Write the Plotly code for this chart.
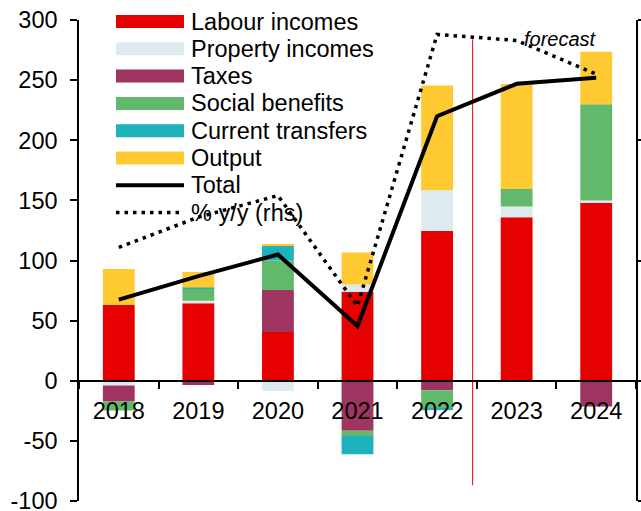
import plotly.graph_objects as go

# Household disposable income decomposition, contributions by component
years = ["2018", "2019", "2020", "2021", "2022", "2023", "2024"]
labour_incomes = [63, 64.5, 40.5, 74, 124.5, 136, 148]
property_incomes = [-4, 2, -8.5, 6, 34, 9, 2]
taxes = [-13.3, -3.5, 35, -41.7, -8, 0, -21.5]
social_benefits = [-7.5, 10, 24.5, -4.2, -15.5, 14.5, 80]
current_transfers = [0, 1, 12.8, -15.3, -1, 0, 0]
output = [30, 13, 1, 26.7, 87, 87.3, 43.6]
total = [67.5, 87, 105, 45.5, 220, 247, 252]
yoy_rhs = [11.1, 13.6, 15.4, 6.2, 28.8, 28.3, 25.5]
left_ticks = [-100, -50, 0, 50, 100, 150, 200, 250, 300]

FONT = "Liberation Sans"
FS = 23.5

series = [
    ("Labour incomes", labour_incomes, "#E60000"),
    ("Property incomes", property_incomes, "#DDEBF1"),
    ("Taxes", taxes, "#9E3460"),
    ("Social benefits", social_benefits, "#63B96B"),
    ("Current transfers", current_transfers, "#1DB2BC"),
    ("Output", output, "#FFC932"),
]

fig = go.Figure()
for name, vals, col in series:
    fig.add_trace(go.Bar(x=years, y=vals, name=name, marker=dict(color=col, line=dict(width=0)),
                         showlegend=False))

fig.add_trace(go.Scatter(x=years, y=total, mode="lines", name="Total",
                         line=dict(color="black", width=4), showlegend=False))
fig.add_trace(go.Scatter(x=years, y=yoy_rhs, mode="lines", name="% y/y (rhs)", yaxis="y2",
                         line=dict(color="black", width=3.5, dash="3.5px,5px"), showlegend=False))

# plot-area pixel frame used to place the hand-drawn legend
L, R, T, B = 79, 636, 20, 501


def px_x(p):
    return (p - L) / (R - L)


def px_y(p):
    return (B - p) / (B - T)


shapes = []
annotations = []
legend_rows = [(name, "box", col) for name, _, col in series] + [
    ("Total", "solid", "black"), ("% y/y (rhs)", "dot", "black")]
row_y0, row_step = 21.5, 27.3
for i, (name, kind, col) in enumerate(legend_rows):
    cy = row_y0 + i * row_step
    if kind == "box":
        shapes.append(dict(type="rect", xref="paper", yref="paper", x0=px_x(116), x1=px_x(184),
                           y0=px_y(cy + 6.5), y1=px_y(cy - 6.5), fillcolor=col, line=dict(width=0)))
    else:
        shapes.append(dict(type="line", xref="paper", yref="paper", x0=px_x(116), x1=px_x(184),
                           y0=px_y(cy), y1=px_y(cy),
                           line=dict(color=col, width=4 if kind == "solid" else 3.5,
                                     dash="solid" if kind == "solid" else "3.5px,5px")))
    annotations.append(dict(text=name, xref="paper", yref="paper", x=px_x(189), y=px_y(cy),
                            xanchor="left", yanchor="middle", showarrow=False,
                            font=dict(family=FONT, size=FS, color="black")))

# forecast divider
shapes.append(dict(type="line", xref="x", yref="y", x0=4.447, x1=4.447, y0=-87, y1=284,
                   line=dict(color="#E8000B", width=1), layer="below"))
annotations.append(dict(text="<i>forecast</i>", xref="x", yref="y", x=5.55, y=284,
                        xanchor="center", yanchor="middle", showarrow=False,
                        font=dict(family=FONT, size=20, color="black")))

fig.update_layout(
    width=641, height=511,
    margin=dict(l=L, r=641 - R, t=T, b=511 - B),
    paper_bgcolor="white", plot_bgcolor="white",
    barmode="relative", bargap=0.6,
    showlegend=False,
    font=dict(family=FONT, size=FS, color="black"),
    shapes=shapes, annotations=annotations,
    xaxis=dict(type="category", anchor="free", position=0.25, range=[-0.5, 6.5],
               showline=True, linecolor="black", linewidth=1.5, automargin=False,
               ticks="outside", tickson="boundaries", ticklen=7, tickwidth=1.5, tickcolor="black",
               showgrid=False, zeroline=False, ticklabelstandoff=9,
               tickfont=dict(family=FONT, size=FS, color="black")),
    yaxis=dict(range=[-100.05, 300.05], tickvals=left_ticks,
               ticktext=[str(v) for v in left_ticks], ticklabeloverflow="allow",
               showline=True, linecolor="black", linewidth=1.5, automargin=False,
               ticks="outside", ticklen=7, tickwidth=1.5, tickcolor="black",
               showgrid=False, zeroline=False, ticklabelstandoff=8,
               tickfont=dict(family=FONT, size=FS, color="black")),
    yaxis2=dict(overlaying="y", side="right", range=[-10, 30], dtick=10, showline=True,
                linecolor="black", linewidth=1.5, ticks="outside", ticklen=7, tickwidth=1.5,
                tickcolor="black", showgrid=False, zeroline=False, automargin=False,
                showticklabels=False),
)

fig.write_html("out.html")
